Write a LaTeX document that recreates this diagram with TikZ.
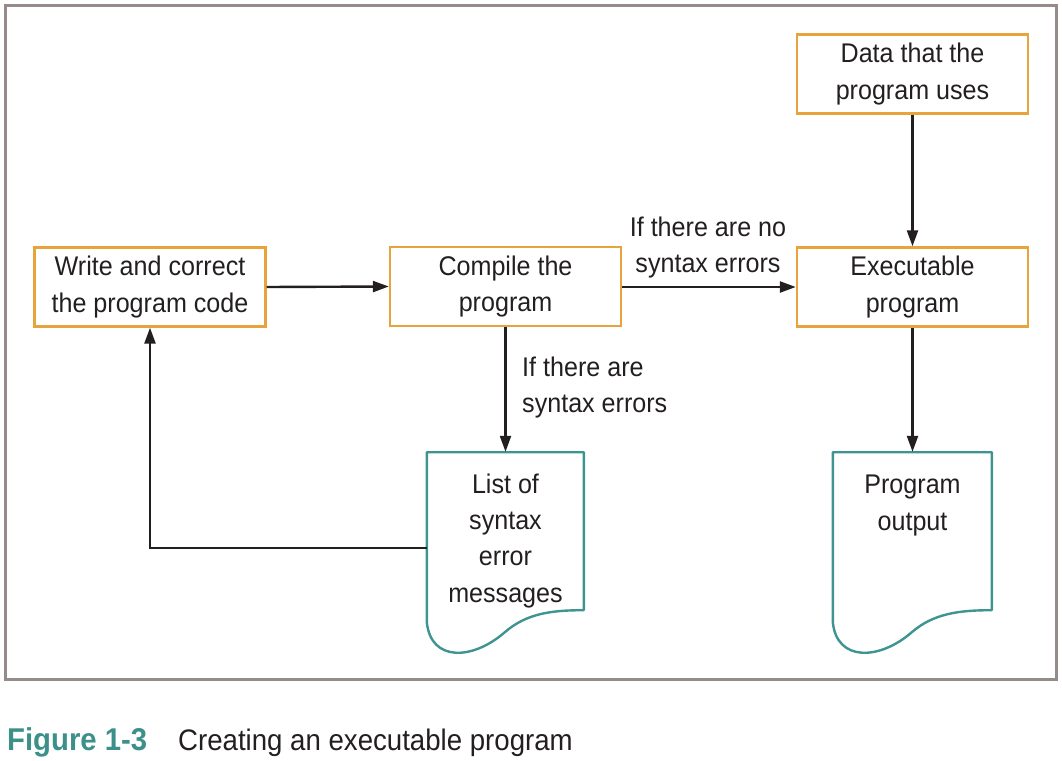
\documentclass[tikz,border=0pt]{standalone}
\usepackage{fontspec}
\setmainfont{Liberation Sans}[FakeStretch=0.93]
\usetikzlibrary{arrows.meta,calc}
\definecolor{boxorange}{HTML}{E8A43C}
\definecolor{docteal}{HTML}{3E9490}
\definecolor{framegray}{HTML}{958C89}
\definecolor{captealc}{HTML}{3D8F8A}
\definecolor{inkc}{HTML}{231F20}
\tikzset{
  procbox/.style={draw=boxorange, line width=2.4pt, minimum width=231pt, minimum height=79pt,
    inner sep=0pt, align=center, text=inkc, font=\fontsize{27}{36.3}\selectfont},
  doctext/.style={inner sep=0pt, text=inkc, font=\fontsize{27}{36.3}\selectfont},
  docline/.style={draw=docteal, line width=2.4pt, line join=round},
  lbl/.style={inner sep=0pt, align=center, text=inkc, font=\fontsize{27}{35.8}\selectfont},
  conn/.style={draw=inkc, line width=2.4pt, -{Triangle[length=16pt,width=11pt]}},
  capfont/.style={inner sep=0pt, anchor=base west}
}
\begin{document}
\begin{tikzpicture}[x=1pt,y=-1pt]
\useasboundingbox (0,0) rectangle (1062,760);
\draw[framegray, line width=3pt] (5.5,6) rectangle (1056,679);

\node[procbox] (write) at (150,287) {Write and correct\\the program code};
\node[procbox] (compile) at (505.5,286.5) {Compile the\\program};
\node[procbox] (exec) at (912.5,287) {Executable\\program};
\node[procbox] (data) at (912.5,74) {Data that the\\program uses};

% documents (node = page area, text at top)
\node[doctext, minimum width=157pt, minimum height=158pt] (list) at (505.5,531) {};
\node[doctext, minimum width=159pt, minimum height=158pt] (output) at (912.5,531) {};
\node[doctext, align=center, anchor=base] (listtxt) at (505.5,602) {List of\\syntax\\error\\messages};
\node[doctext, align=center, anchor=base] (outtxt) at (912.5,530) {Program\\output};

\draw[docline, shift={(list.south west)}] (157,0) -- (157,-158) -- (0,-158) -- (0,12)
  .. controls (4,52) and (46,50) .. (78,22) .. controls (100,3) and (125,0) .. cycle;
\draw[docline, shift={(output.south west)}] (159,0) -- (159,-158) -- (0,-158) -- (0,12)
  .. controls (4,52) and (47,50) .. (79,22) .. controls (101,3) and (127,0) .. cycle;

% connectors
\draw[conn] (write.east) -- (compile.west);
\draw[conn] (compile.east |- write.east) -- (exec.west);
\draw[conn] (compile.south) -- (list.north);
\draw[conn] (data.south) -- (exec.north);
\draw[conn] (exec.south) -- (output.north);
\coordinate (back) at ($(list.west)+(0,17)$);
\draw[conn] (back) -- (write.south |- back) -- (write.south);

% labels
\node[lbl, anchor=base] (nolbl) at (708,272) {If there are no\\syntax errors};
\node[lbl, anchor=base west, align=left] (yeslbl) at (522,412) {If there are\\syntax errors};

% caption
\node[capfont, text=captealc, font=\fontsize{31.5}{36}\selectfont\bfseries] (capnum) at (7,750) {Figure 1-3};
\node[capfont, text=inkc, font=\fontsize{29.7}{36}\selectfont] (captxt) at (178,750) {Creating an executable program};
\end{tikzpicture}
\end{document}
